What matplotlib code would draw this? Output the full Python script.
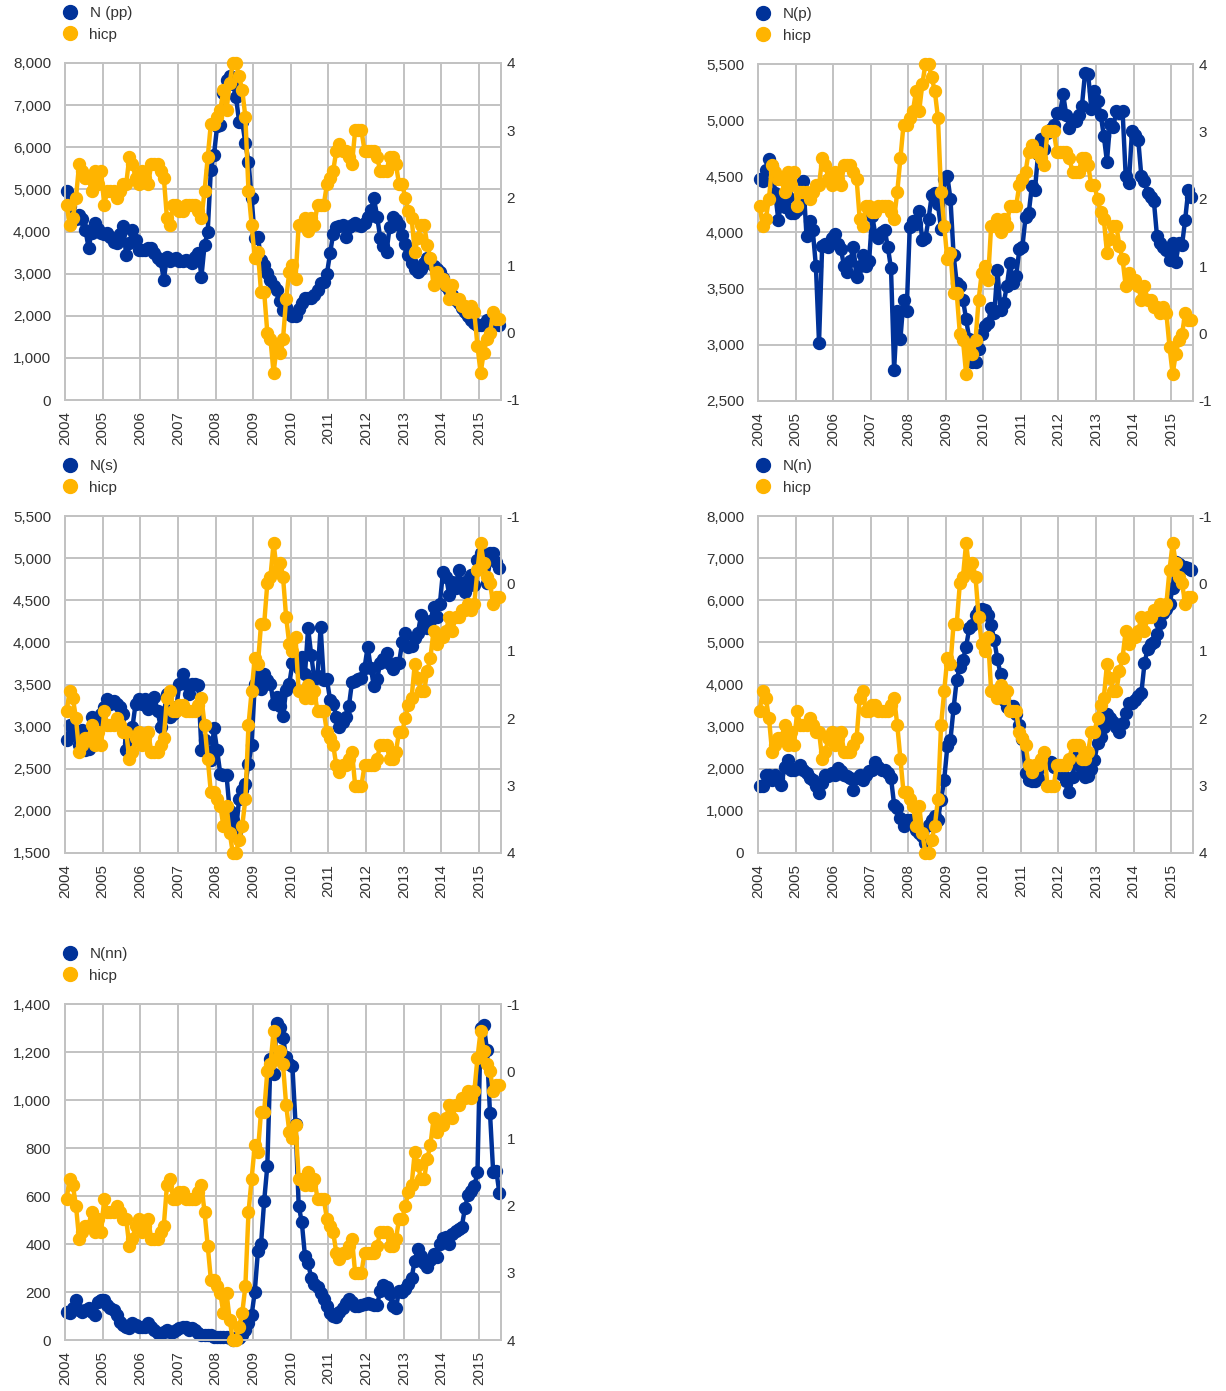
import matplotlib.pyplot as plt
from matplotlib.lines import Line2D
from matplotlib.ticker import FuncFormatter, MultipleLocator

plt.rcParams['font.family'] = ['Liberation Sans', 'DejaVu Sans']
plt.rcParams['axes.unicode_minus'] = False

# monthly data, Jan 2004 .. Jul 2015
anos = [str(a) for a in range(2004, 2016)]

hicp = [1.9, 1.6, 1.7, 2.0, 2.5, 2.4, 2.3, 2.3, 2.1, 2.4, 2.2, 2.4,
        1.9, 2.1, 2.1, 2.1, 2.0, 2.1, 2.2, 2.2, 2.6, 2.5, 2.3, 2.2,
        2.4, 2.3, 2.2, 2.5, 2.5, 2.5, 2.4, 2.3, 1.7, 1.6, 1.9, 1.9,
        1.8, 1.8, 1.9, 1.9, 1.9, 1.9, 1.8, 1.7, 2.1, 2.6, 3.1, 3.1,
        3.2, 3.3, 3.6, 3.3, 3.7, 4.0, 4.0, 3.8, 3.6, 3.2, 2.1, 1.6,
        1.1, 1.2, 0.6, 0.6, 0.0, -0.1, -0.6, -0.2, -0.3, -0.1, 0.5, 0.9,
        1.0, 0.8, 1.6, 1.6, 1.7, 1.5, 1.7, 1.6, 1.9, 1.9, 1.9, 2.2,
        2.3, 2.4, 2.7, 2.8, 2.7, 2.7, 2.6, 2.5, 3.0, 3.0, 3.0, 2.7,
        2.7, 2.7, 2.7, 2.6, 2.4, 2.4, 2.4, 2.6, 2.6, 2.5, 2.2, 2.2,
        2.0, 1.8, 1.7, 1.2, 1.4, 1.6, 1.6, 1.3, 1.1, 0.7, 0.9, 0.8,
        0.8, 0.7, 0.5, 0.7, 0.5, 0.5, 0.4, 0.4, 0.3, 0.4, 0.3, -0.2,
        -0.6, -0.3, -0.1, 0.0, 0.3, 0.2, 0.2]

n_pp = [4950, 4600, 4350, 4300, 4400, 4300, 4040, 3620, 3960, 4200, 4050, 3960,
        3950, 3960, 3880, 3750, 3720, 3950, 4120, 3450, 3720, 4040, 3800, 3560,
        3560, 3560, 3600, 3600, 3500, 3380, 3300, 2850, 3400, 3290, 3350, 3370,
        3300, 3290, 3330, 3300, 3250, 3400, 3500, 2930, 3680, 4000, 5470, 5820,
        6500, 6535, 7290, 7600, 7680, 7500, 7200, 6610, 6600, 6100, 5660, 4790,
        3850, 3880, 3330, 3200, 3010, 2850, 2700, 2600, 2340, 2140, 2200, 2050,
        1990, 2000, 2150, 2300, 2410, 2410, 2420, 2490, 2600, 2770, 2800, 3000,
        3480, 3950, 4100, 4120, 4150, 3880, 4100, 4150, 4190, 4150, 4130, 4200,
        4350, 4500, 4790, 4350, 3850, 3650, 3520, 4100, 4350, 4270, 4150, 3920,
        3700, 3450, 3250, 3100, 3050, 3100, 3250, 3365, 3250, 3180, 3120, 3045,
        2900, 2700, 2600, 2500, 2380, 2300, 2180, 2100, 2000, 1900, 1830, 1780,
        1780, 1800, 1900, 1850, 1820, 1800, 1780]

n_p = [4476, 4455, 4560, 4650, 4590, 4350, 4110, 4290, 4230, 4320, 4170, 4170,
       4200, 4250, 4455, 3965, 4100, 4020, 3700, 3020, 3880, 3900, 3870, 3950,
       3990, 3900, 3850, 3700, 3650, 3750, 3870, 3600, 3700, 3800, 3700, 3750,
       4150, 3980, 3950, 4000, 4020, 3870, 3680, 2780, 3300, 3050, 3400, 3300,
       4050, 4100, 4080, 4190, 3930, 3950, 4120, 4330, 4350, 4250, 4030, 4480,
       4500, 4300, 3800, 3550, 3520, 3400, 3230, 3050, 2850, 2850, 2960, 3100,
       3170, 3190, 3330, 3280, 3670, 3310, 3370, 3520, 3730, 3550, 3610, 3850,
       3875, 4140, 4170, 4410, 4380, 4700, 4830, 4740, 4890, 4920, 4960, 5065,
       5065, 5230, 5050, 4930, 5005, 4990, 5050, 5125, 5420, 5410, 5100, 5260,
       5170, 5050, 4860, 4630, 4970, 4940, 5080, 5060, 5080, 4500, 4440, 4900,
       4870, 4825, 4500, 4455, 4350, 4320, 4280, 3965, 3905, 3875, 3845, 3755,
       3905, 3740, 3905, 3890, 4115, 4380, 4320]

n_s = [2840, 3015, 2955, 2900, 2780, 2955, 2720, 2740, 3115, 3035, 2955, 3150,
       3230, 3330, 3270, 3310, 3270, 3230, 3150, 2720, 2800, 2995, 3270, 3330,
       3270, 3330, 3210, 3310, 3350, 3190, 2995, 3150, 3390, 3115, 3150, 3230,
       3510, 3630, 3510, 3390, 3510, 3510, 3500, 2720, 2840, 2700, 2600, 2980,
       2720, 2440, 2430, 2420, 2000, 1890, 1750, 2145, 2250, 2320, 2560, 2780,
       3510, 3630, 3450, 3630, 3550, 3510, 3270, 3350, 3250, 3130, 3430, 3510,
       3750, 3790, 3700, 3830, 3620, 4170, 3850, 3560, 3600, 4180, 3550, 3560,
       3320, 3270, 3120, 3000, 3060, 3110, 3240, 3530, 3540, 3560, 3580, 3700,
       3950, 3690, 3480, 3560, 3760, 3800, 3870, 3740, 3680, 3750, 3760, 4000,
       4110, 3950, 3960, 4050, 4110, 4320, 4200, 4170, 4250, 4420, 4300, 4450,
       4840, 4780, 4560, 4720, 4650, 4860, 4700, 4600, 4740, 4800, 4680, 4980,
       5060, 4900, 4700, 5060, 5060, 4950, 4880]

n_n = [1580, 1580, 1856, 1856, 1740, 1860, 1780, 1620, 2050, 2210, 1975, 1975,
       2015, 2090, 1975, 1900, 1780, 1740, 1580, 1420, 1660, 1860, 1820, 1900,
       1860, 2015, 1935, 1860, 1820, 1780, 1500, 1780, 1860, 1740, 1860, 1935,
       1975, 2170, 2050, 1975, 1975, 1900, 1780, 1145, 1066, 830, 630, 790,
       790, 710, 550, 470, 400, 240, 670, 790, 870, 790, 1260, 1740,
       2530, 2690, 3440, 4110, 4420, 4580, 4900, 5330, 5410, 5650, 5770, 5800,
       5770, 5650, 5410, 5050, 4600, 4250, 3630, 3470, 3500, 3500, 3300, 3050,
       2700, 1900, 1730, 1700, 1700, 1780, 2050, 2120, 2150, 2170, 2050, 2050,
       1900, 1850, 1700, 1450, 1800, 2300, 2100, 1890, 1810, 1830, 2000, 2200,
       2600, 2760, 3000, 3300, 3200, 3100, 3000, 2880, 3080, 3320, 3550, 3560,
       3640, 3720, 3800, 4500, 4850, 4950, 5000, 5200, 5450, 5690, 5800, 5900,
       6300, 6900, 6850, 6800, 6780, 6760, 6720]

n_nn = [118, 111, 132, 167, 125, 118, 125, 132, 118, 104, 160, 167,
        167, 146, 132, 125, 104, 76, 62, 56, 49, 69, 62, 56,
        56, 56, 69, 56, 42, 28, 28, 35, 42, 35, 35, 42,
        49, 56, 56, 42, 49, 42, 28, 21, 21, 21, 21, 14,
        14, 14, 14, 14, 7, 0, 7, 7, 21, 42, 69, 104,
        201, 370, 400, 580, 725, 1170, 1110, 1320, 1300, 1260, 1180, 1150,
        1140, 900, 560, 490, 350, 320, 260, 235, 222, 195, 170, 140,
        111, 100, 95, 115, 135, 155, 172, 160, 142, 140, 146, 150,
        153, 150, 146, 146, 205, 228, 222, 190, 140, 132, 205, 200,
        212, 235, 260, 330, 380, 350, 320, 306, 333, 360, 347, 400,
        425, 431, 400, 440, 455, 462, 472, 550, 604, 620, 640, 700,
        1300, 1313, 1210, 944, 700, 705, 611]

AZUL = '#003299'
AMARELO = '#FFB400'
GRADE = '#c2c2c2'
TEXTO = '#333333'

W, H = 1226, 1391
fig = plt.figure(figsize=(W / 100, H / 100), dpi=100)


def painel(caixa, serie, nome, ylim, passo, invertido):
    x0, y0, x1, y1 = caixa
    ax = fig.add_axes([x0 / W, 1 - y1 / H, (x1 - x0) / W, (y1 - y0) / H])
    n = len(serie)
    x = [i + 0.5 for i in range(n)]

    ax.set_axisbelow(True)
    ax.plot(x, serie, color=AZUL, lw=3.2, marker='o', ms=8.6, zorder=3,
            clip_on=False)
    ax.set_xlim(0, n)
    ax.set_ylim(*ylim)
    ax.yaxis.set_major_locator(MultipleLocator(passo))
    ax.yaxis.set_major_formatter(FuncFormatter(lambda v, p: f'{v:,.0f}'))
    ax.set_xticks(range(0, n, 12))
    ax.set_xticklabels(anos, rotation=90)
    ax.grid(True, color=GRADE, lw=1.4)
    ax.tick_params(axis='y', length=0, labelsize=11, colors=TEXTO, pad=10)
    ax.tick_params(axis='x', length=0, labelsize=11, colors=TEXTO, pad=8)
    for s in ax.spines.values():
        s.set_color(GRADE)
        s.set_linewidth(1.4)

    # hicp no eixo da direita
    ax2 = ax.twinx()
    ax2.plot(x, hicp, color=AMARELO, lw=3.2, marker='o', ms=8.6, zorder=3,
             clip_on=False)
    ax2.set_xlim(0, n)
    if invertido:
        ax2.set_ylim(4, -1)
    else:
        ax2.set_ylim(-1, 4)
    ax2.set_yticks(range(-1, 5))
    ax2.tick_params(axis='y', length=0, labelsize=11, colors=TEXTO, pad=4)
    for s in ax2.spines.values():
        s.set_color(GRADE)
        s.set_linewidth(1.4)

    alcas = [Line2D([], [], ls='', marker='o', ms=10, color=AZUL),
             Line2D([], [], ls='', marker='o', ms=10, color=AMARELO)]
    fig.legend(alcas, [nome, 'hicp'], loc='upper left',
               bbox_to_anchor=((x0 - 3) / W, 1 - (y0 - 57) / H),
               frameon=False, borderpad=0, borderaxespad=0, handlelength=1.0,
               handletextpad=0.8, labelspacing=0.5, fontsize=11,
               labelcolor=TEXTO)


painel((65, 63, 501, 400), n_pp, 'N (pp)', (0, 8000), 1000, False)
painel((758, 64, 1193, 401), n_p, 'N(p)', (2500, 5500), 500, False)
painel((65, 516, 501, 853), n_s, 'N(s)', (1500, 5500), 500, True)
painel((758, 516, 1193, 853), n_n, 'N(n)', (0, 8000), 1000, True)
painel((65, 1004, 501, 1340), n_nn, 'N(nn)', (0, 1400), 200, True)

fig.savefig('out.png', dpi=100)
